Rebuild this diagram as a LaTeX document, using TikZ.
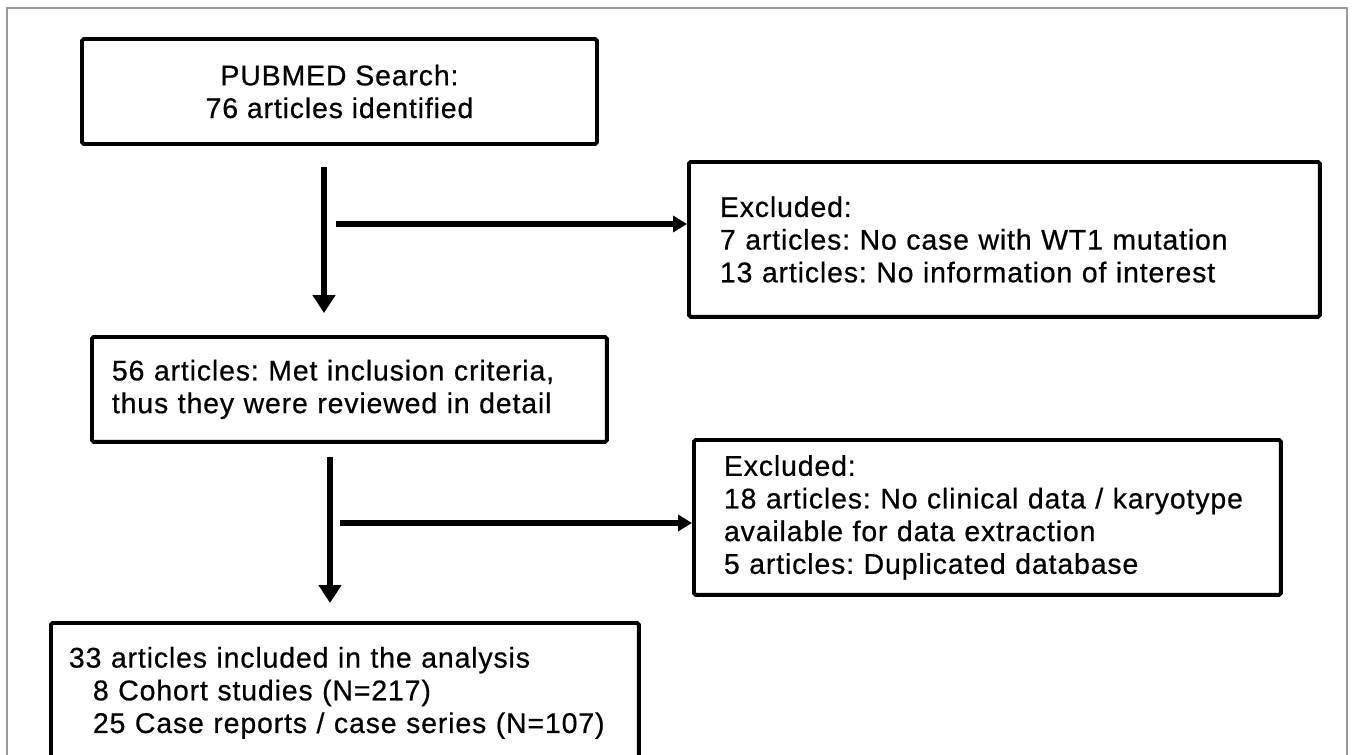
\documentclass[tikz,border=0pt]{standalone}
\usepackage{fontspec}
\setmainfont{Liberation Sans}[LetterSpace=3,FakeBold=0.6]
\usetikzlibrary{arrows.meta}
\frenchspacing

\begin{document}
\begin{tikzpicture}[x=0.02cm,y=-0.02cm,
box/.style={draw, line width=2.2pt, rounded corners=1pt, inner ysep=0pt, font=\fontsize{16.2}{18.6}\selectfont},
leftbox/.style={box, anchor=north west, align=left},
flow/.style={line width=3.3pt, -{Triangle[length=0.36cm,width=0.44cm]}},
side/.style={line width=3.3pt, -{Triangle[length=0.28cm,width=0.32cm]}}
]
\useasboundingbox (0,0) rectangle (1358,754);
\clip (0,0) rectangle (1358,754);
\draw[gray!80, line width=0.8pt] (7,800) -- (7,8) -- (1347,8) -- (1347,800);

\node[box, align=center, minimum width=10.3cm, minimum height=2.1cm] (search) at (339.5,91.5) {PUBMED Search:\\76 articles identified};
\node[leftbox, inner xsep=0.62cm, text width=11.38cm, minimum height=3.1cm] (excl1) at (687,160) {Excluded:\\7 articles: No case with WT1 mutation\\13 articles: No information of interest};
\node[leftbox, inner xsep=0.4cm, text width=9.5cm, minimum height=2.1cm] (met) at (90,335) {56 articles: Met inclusion criteria,\\thus they were reviewed in detail};
\node[leftbox, inner xsep=0.6cm, text width=10.54cm, minimum height=3.1cm] (excl2) at (692,438) {Excluded:\\18 articles: No clinical data / karyotype\\available for data extraction\\5 articles: Duplicated database};
\node[leftbox, inner xsep=0.36cm, text width=11.04cm, minimum height=2.8cm] (incl) at (49,621) {33 articles included in the analysis\\\hspace*{0.48cm}8 Cohort studies (N=217)\\\hspace*{0.48cm}25 Case reports / case series (N=107)};

% arrows
\coordinate (fork1) at (324,224);
\coordinate (fork2) at (330,523);
\draw[flow, shorten <=0.42cm, shorten >=0.44cm] (search.south -| fork1) -- (met.north -| fork1);
\draw[side] ([xshift=0.24cm]fork1) -- (fork1 -| excl1.west);
\draw[flow, shorten <=0.26cm, shorten >=0.36cm] (met.south -| fork2) -- (incl.north -| fork2);
\draw[side] ([xshift=0.2cm]fork2) -- (fork2 -| excl2.west);
\end{tikzpicture}
\end{document}
